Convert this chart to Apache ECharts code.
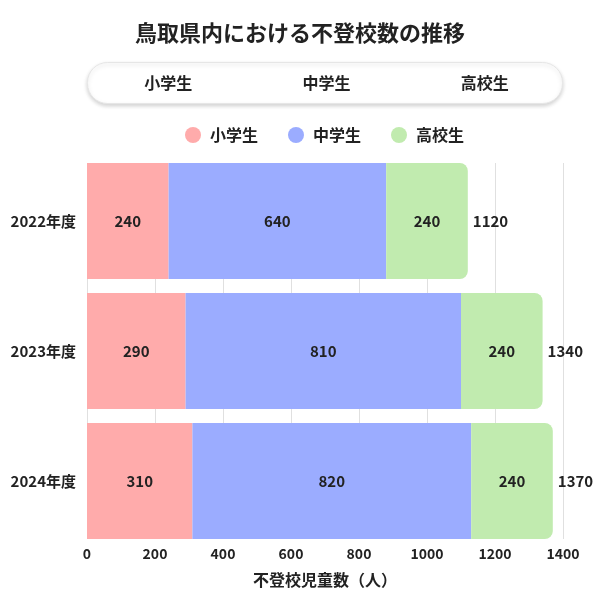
<!DOCTYPE html>
<html><head><meta charset="utf-8">
<script src="https://cdn.jsdelivr.net/npm/echarts@6/dist/echarts.min.js"></script>
<style>html,body{margin:0;padding:0;background:#fff}#c{width:600px;height:600px}</style>
</head><body><div id="c"></div>
<script>
const title = '鳥取県内における不登校数の推移';
const categories = ['2022年度', '2023年度', '2024年度'];
const seriesNames = ['小学生', '中学生', '高校生'];
const elementary = [240, 290, 310];
const juniorHigh = [640, 810, 820];
const highSchool = [240, 240, 240];
const xTicks = [0, 200, 400, 600, 800, 1000, 1200, 1400];
const xAxisName = '不登校児童数（人）';

const colors = ['#FFABAB', '#9BACFF', '#C1EBAF'];
const values = [elementary, juniorHigh, highSchool];
const totals = categories.map((_, i) => values.reduce((s, arr) => s + arr[i], 0));
const font = '"Noto Sans CJK JP", "Noto Sans", sans-serif';
const xMin = xTicks[0], xMax = xTicks[xTicks.length - 1], xInt = xTicks[1] - xTicks[0];

const chart = echarts.init(document.getElementById('c'));
const pillLeft = 87, pillW = 475, pillTop = 62, pillH = 41;
const graphic = [{
  type: 'rect', left: pillLeft, top: pillTop,
  shape: { width: pillW, height: pillH, r: 20 },
  style: { fill: '#fff', stroke: '#e6e6e6', lineWidth: 1, shadowBlur: 4, shadowOffsetY: 2, shadowColor: 'rgba(0,0,0,0.18)' }
}].concat(seriesNames.map((n, i) => ({
  type: 'text',
  x: pillLeft + pillW * (2 * i + 1) / 6 + 2,
  y: pillTop + pillH / 2,
  style: { text: n, fill: '#222', font: 'bold 16px ' + font, align: 'center', verticalAlign: 'middle' }
})));

const labelStyle = { color: '#222', fontSize: 15, fontWeight: 'bold', fontFamily: font };
const series = values.map((arr, i) => ({
  name: seriesNames[i], type: 'bar', stack: 'total', data: arr,
  xAxisIndex: 1, yAxisIndex: 1,
  barCategoryGap: '10.8%',
  itemStyle: { color: colors[i], borderRadius: i === 2 ? [0, 8, 8, 0] : 0 },
  label: Object.assign({ show: true, position: 'inside' }, labelStyle),
  z: 3
}));
series.push({
  name: 'total', type: 'bar', data: totals, barGap: '-100%', silent: true,
  xAxisIndex: 1, yAxisIndex: 1,
  itemStyle: { color: 'rgba(0,0,0,0)' },
  label: Object.assign({ show: true, position: 'right', distance: 5 }, labelStyle),
  z: 1
});

chart.setOption({
  animation: false,
  title: { text: title, left: 'center', top: 17, textStyle: { fontSize: 22, fontWeight: 'bold', color: '#222', fontFamily: font } },
  graphic: graphic,
  legend: {
    data: seriesNames, top: 122, left: 180, icon: 'circle', itemWidth: 16, itemHeight: 16, itemGap: 30,
    textStyle: { fontSize: 16, fontWeight: 'bold', color: '#222', fontFamily: font, padding: [0, 0, 0, 4] }
  },
  grid: [
    { left: 87, right: 37, top: 163, bottom: 61, containLabel: false },
    { left: 87, right: 37, top: 156, bottom: 54, containLabel: false }
  ],
  xAxis: [{
    gridIndex: 0, type: 'value', min: xMin, max: xMax, interval: xInt,
    name: xAxisName, nameLocation: 'middle', nameGap: 33,
    nameTextStyle: { fontSize: 16, fontWeight: 'bold', color: '#222', fontFamily: font },
    axisLabel: { fontSize: 14, fontWeight: 'bold', color: '#222', fontFamily: font, margin: 8, formatter: v => String(v) },
    axisLine: { show: false }, axisTick: { show: false },
    splitLine: { show: true, lineStyle: { color: '#e0e0e0', width: 1 } }
  }, {
    gridIndex: 1, type: 'value', min: xMin, max: xMax, interval: xInt,
    axisLabel: { show: false }, axisLine: { show: false }, axisTick: { show: false }, splitLine: { show: false }
  }],
  yAxis: [{
    gridIndex: 0, type: 'category', data: categories, inverse: true, show: false
  }, {
    gridIndex: 1, type: 'category', data: categories, inverse: true,
    axisLine: { show: false }, axisTick: { show: false }, splitLine: { show: false },
    axisLabel: { fontSize: 15, fontWeight: 'bold', color: '#222', fontFamily: font, margin: 11 }
  }],
  series: series
});
</script></body></html>
